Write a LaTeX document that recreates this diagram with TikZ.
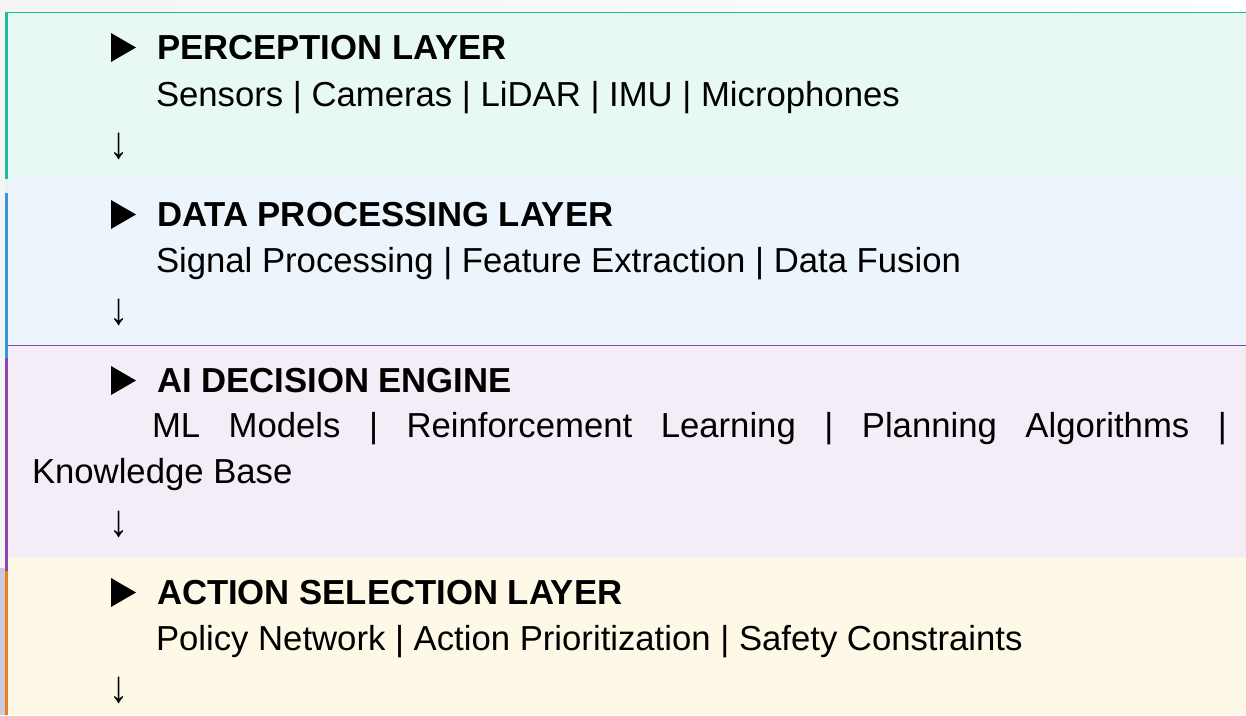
\documentclass[tikz,border=0pt]{standalone}
\usepackage{fontspec}
\setmainfont{Liberation Sans}
\definecolor{pageA}{HTML}{F4F4F4}
\definecolor{edgeStrip}{HTML}{CCC8DD}
\definecolor{gapTone}{HTML}{EAF0F0}
\definecolor{tealLine}{HTML}{1ABC9C}
\definecolor{tealFill}{HTML}{E8F8F5}
\definecolor{blueLine}{HTML}{3498DB}
\definecolor{blueFill}{HTML}{EBF5FB}
\definecolor{purpLine}{HTML}{8E44AD}
\definecolor{purpFill}{HTML}{F4ECF7}
\definecolor{orngLine}{HTML}{E67E22}
\definecolor{orngFill}{HTML}{FEF9E7}
\newcommand{\bodysize}{\fontsize{34.7}{46}\selectfont}
\newcommand{\downglyph}{\scalebox{1.1}[1.3]{↓}}
\tikzset{
  txt/.style={inner sep=0pt, outer sep=0pt, anchor=base west, font=\bodysize},
  layertitle/.style={txt, font=\bodysize\bfseries},
  downmark/.style={txt},
  marker/.style={fill=black},
}
\begin{document}
\begin{tikzpicture}[x=1pt,y=-1pt]
\useasboundingbox (0,0) rectangle (1246,715);

% page background
\shade[left color=pageA, right color=white] (0,0) rectangle (1246,12);
\fill[pageA] (0,0) rectangle (5,715);
\fill[edgeStrip] (0,568) rectangle (5,715);

% layer bands
\fill[tealFill] (8,12)  rectangle (1246,179);
\fill[blueFill] (8,179) rectangle (1246,345);
\fill[purpFill] (8,345) rectangle (1246,557);
\fill[orngFill] (8,557) rectangle (1246,715);

% accent rules
\fill[tealLine] (5,11.5) rectangle (1246,13);
\fill[purpLine] (8,344.5) rectangle (1246,346);
\fill[tealLine] (5,12)  rectangle (8,179);
\fill[gapTone]  (5,179) rectangle (8,193);
\fill[blueLine] (5,193) rectangle (8,358);
\fill[purpLine] (5,358) rectangle (8,571);
\fill[orngLine] (5,571) rectangle (8,715);

% perception layer
\fill[marker] (111,33) -- (136,47.5) -- (111,62) -- cycle;
\node[layertitle] (t1) at (157,59) {PERCEPTION LAYER};
\node[txt] (s1) at (156,106) {Sensors | Cameras | LiDAR | IMU | Microphones};
\node[downmark] (d1) at (109,158) {\downglyph};

% data processing layer
\fill[marker] (111,200) -- (136,214.5) -- (111,229) -- cycle;
\node[layertitle] (t2) at (157,226) {DATA PROCESSING LAYER};
\node[txt] (s2) at (156,272) {Signal Processing | Feature Extraction | Data Fusion};
\node[downmark] (d2) at (109,324) {\downglyph};

% decision engine
\fill[marker] (111,366) -- (136,380.5) -- (111,395) -- cycle;
\node[layertitle] (t3) at (157,392) {AI DECISION ENGINE};
\node[txt] (s3) at (32,437) {\parbox[t]{1195pt}{\bodysize
  \hspace*{120pt}ML Models | Reinforcement Learning | Planning Algorithms |\linebreak
  Knowledge Base}};
\node[downmark] (d3) at (109,536) {\downglyph};

% action selection layer
\fill[marker] (111,578) -- (136,592.5) -- (111,607) -- cycle;
\node[layertitle] (t4) at (157,604) {ACTION SELECTION LAYER};
\node[txt] (s4) at (156,650) {Policy Network | Action Prioritization | Safety Constraints};
\node[downmark] (d4) at (109,702) {\downglyph};
\end{tikzpicture}
\end{document}
